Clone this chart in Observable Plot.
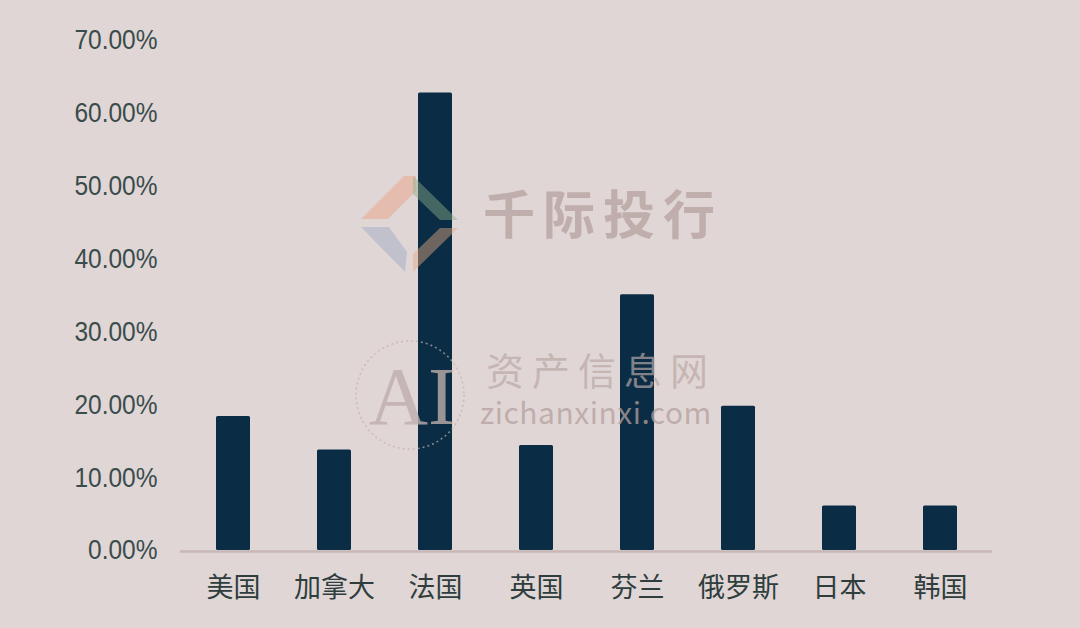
<!DOCTYPE html>
<html>
<head>
<meta charset="utf-8">
<script src="https://cdn.jsdelivr.net/npm/d3@7"></script>
<script src="https://cdn.jsdelivr.net/npm/@observablehq/plot@0.6"></script>
<style>
  html, body { margin: 0; padding: 0; background: #e0d6d5; }
  #wrap { position: relative; width: 1080px; height: 628px; overflow: hidden; }
  .wm { position: absolute; pointer-events: none; white-space: nowrap; }
</style>
</head>
<body>
<div id="wrap"></div>
<script>
const countries = ["美国", "加拿大", "法国", "英国", "芬兰", "俄罗斯", "日本", "韩国"];
const shares = [18.4, 13.8, 62.8, 14.4, 35.1, 19.8, 6.1, 6.1];
const yTicks = [0, 10, 20, 30, 40, 50, 60, 70];

const data = countries.map((c, i) => ({country: c, share: shares[i]}));

const chart = Plot.plot({
  width: 1080,
  height: 628,
  marginLeft: 180,
  marginRight: 88,
  marginTop: 40,
  marginBottom: 78,
  style: {background: "transparent", fontFamily: "'Liberation Sans', Arial, sans-serif", overflow: "visible"},
  x: {domain: countries, paddingInner: 0.665, paddingOuter: 0.335, label: null, tickSize: 0, tickPadding: 27},
  y: {domain: [0, 70], ticks: yTicks, tickFormat: d => d.toFixed(2) + "%", label: null, tickSize: 0, tickPadding: 23},
  marks: [
    Plot.barY(data, {x: "country", y: "share", fill: "#0a2d45", rx: 1.5}),
    Plot.ruleY([0], {stroke: "#c9b7b7", strokeWidth: 2.5, dy: 1})
  ]
});

const wrap = document.getElementById("wrap");
wrap.appendChild(chart);

d3.select(chart).selectAll("text").each(function () {
  const t = this.textContent;
  const s = d3.select(this);
  if (t.endsWith("%")) {
    s.attr("font-size", 28).attr("fill", "#3a4c4b").style("font-family", "'Liberation Sans', Arial, sans-serif");
    const len = this.getComputedTextLength();
    s.attr("textLength", len * 0.875).attr("lengthAdjust", "spacingAndGlyphs");
  } else if (countries.includes(t)) {
    s.attr("font-size", 27).attr("fill", "#2f3d3d").style("font-family", "'Noto Sans CJK SC', sans-serif");
  }
});

// watermark overlay
const wm = d3.select(wrap).append("svg")
  .attr("width", 1080).attr("height", 628)
  .style("position", "absolute").style("left", 0).style("top", 0).style("pointer-events", "none");
wm.append("polygon").attr("points", "361,219 404,176 416,176 416,191 388,219").attr("fill", "#e8a080").attr("opacity", 0.45);
wm.append("polygon").attr("points", "413,176 458,220 440,220 413,194").attr("fill", "#8fb08a").attr("opacity", 0.45);
wm.append("polygon").attr("points", "361,227 405,272 407,252 389,227").attr("fill", "#9aa8c4").attr("opacity", 0.45);
wm.append("polygon").attr("points", "413,272 458,228 440,228 413,254").attr("fill", "#e8a880").attr("opacity", 0.45);
wm.append("circle").attr("cx", 410).attr("cy", 395).attr("r", 54).attr("fill", "none")
  .attr("stroke", "#bfb0ae").attr("stroke-width", 1.5).attr("stroke-dasharray", "2,3").attr("opacity", 0.7);
wm.append("text").attr("x", 412).attr("y", 424).attr("text-anchor", "middle")
  .attr("font-size", 82).attr("font-family", "'Liberation Serif', serif").attr("fill", "#bfaeac").attr("opacity", 0.8).text("AI");

const addText = (txt, left, top, size, color, spacing, weight) => {
  const d = document.createElement("div");
  d.className = "wm";
  d.textContent = txt;
  d.style.left = left + "px";
  d.style.top = top + "px";
  d.style.fontSize = size + "px";
  d.style.lineHeight = "0.75";
  d.style.color = color;
  d.style.letterSpacing = spacing + "px";
  d.style.fontWeight = weight;
  d.style.fontFamily = "'Noto Sans CJK SC', 'Noto Sans', sans-serif";
  wrap.appendChild(d);
};
addText("千际投行", 483, 192, 52, "rgba(180,160,158,0.75)", 8, 700);
addText("资产信息网", 486, 355, 38, "rgba(185,168,166,0.7)", 8, 400);
addText("zichanxinxi.com", 480, 400, 30, "rgba(180,160,158,0.75)", 0.5, 400);
</script>
</body>
</html>
